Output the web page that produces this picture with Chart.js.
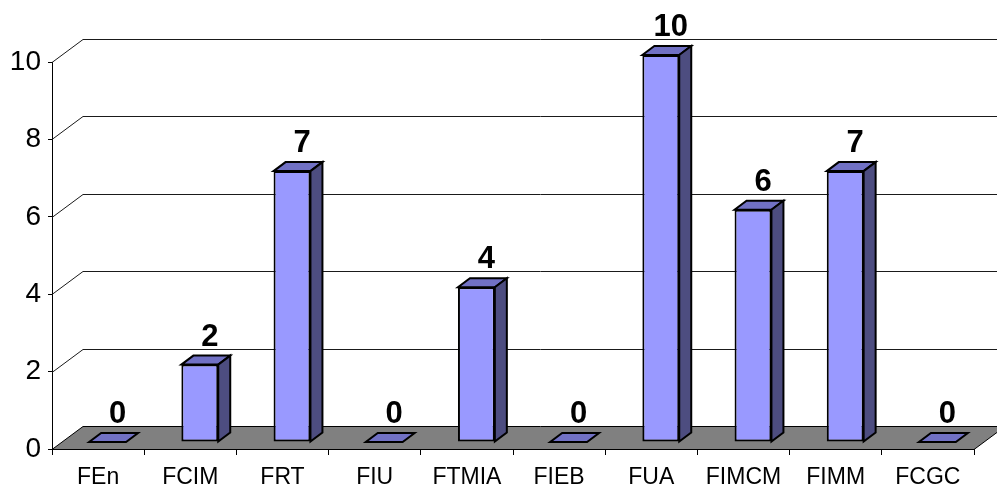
<!DOCTYPE html>
<html>
<head>
<meta charset="utf-8">
<script src="https://cdn.jsdelivr.net/npm/chart.js@4.4.0/dist/chart.umd.min.js"></script>
<style>
    html, body { margin: 0; padding: 0; background: #fff; }
    #wrap { width: 997px; height: 486px; }
</style>
</head>
<body>
<div id="wrap"><canvas id="chart" width="997" height="486"></canvas></div>
<script>
const categories = ['FEn', 'FCIM', 'FRT', 'FIU', 'FTMIA', 'FIEB', 'FUA', 'FIMCM', 'FIMM', 'FCGC'];
const values = [0, 2, 7, 0, 4, 0, 10, 6, 7, 0];
const yTicks = [0, 2, 4, 6, 8, 10];

// 3D look: depth of walls/floor, where bars sit inside it, and bar depth
const DX = 31, DY = 23;
const BX = 9.5, BY = 7;
const SX = 12, SY = 9;

const FRONT = '#9999FF';
const TOP = '#7171C4';
const SIDE = '#4D4D80';
const FONT = "'Liberation Sans', Arial, sans-serif";

const wallsPlugin = {
    id: 'walls',
    beforeDatasetsDraw(chart) {
        const ctx = chart.ctx;
        const { left, right, bottom } = chart.chartArea;
        const yScale = chart.scales.y;
        ctx.save();
        ctx.lineWidth = 1;
        ctx.strokeStyle = '#1a1a1a';
        yTicks.forEach(v => {
            if (v === 0) return;
            const py = Math.round(yScale.getPixelForValue(v)) + 0.5;
            ctx.beginPath();
            ctx.moveTo(left, py);
            ctx.lineTo(left + DX, py - DY);
            ctx.lineTo(chart.width + 10, py - DY);
            ctx.stroke();
        });

        // floor
        const b = Math.round(bottom) + 0.5;
        ctx.fillStyle = '#808080';
        ctx.strokeStyle = '#000';
        ctx.beginPath();
        ctx.moveTo(left, b);
        ctx.lineTo(right, b);
        ctx.lineTo(right + DX, b - DY);
        ctx.lineTo(left + DX, b - DY);
        ctx.closePath();
        ctx.fill();
        ctx.stroke();
        ctx.restore();
    },
    beforeDatasetDraw(chart) {
        chart.ctx.save();
        chart.ctx.translate(BX, -BY);
    },
    afterDatasetDraw(chart, args) {
        const ctx = chart.ctx;
        ctx.lineWidth = 2;
        ctx.strokeStyle = '#000';
        ctx.lineJoin = 'miter';
        args.meta.data.forEach(el => {
            const { x, y, base, width } = el.getProps(['x', 'y', 'base', 'width'], true);
            const l = x - width / 2, r = x + width / 2;
            // top face
            ctx.fillStyle = TOP;
            ctx.beginPath();
            ctx.moveTo(l, y);
            ctx.lineTo(r, y);
            ctx.lineTo(r + SX, y - SY);
            ctx.lineTo(l + SX, y - SY);
            ctx.closePath();
            ctx.fill();
            ctx.stroke();
            if (base - y > 0.5) {
                // side face
                ctx.fillStyle = SIDE;
                ctx.beginPath();
                ctx.moveTo(r, y);
                ctx.lineTo(r + SX, y - SY);
                ctx.lineTo(r + SX, base - SY);
                ctx.lineTo(r, base);
                ctx.closePath();
                ctx.fill();
                ctx.stroke();
            }
        });
        ctx.restore();
    },
    afterDatasetsDraw(chart) {
        const ctx = chart.ctx;
        const meta = chart.getDatasetMeta(0);
        ctx.save();
        ctx.fillStyle = '#000';
        ctx.font = 'bold 31px ' + FONT;
        ctx.textAlign = 'center';
        ctx.textBaseline = 'alphabetic';
        meta.data.forEach((el, i) => {
            const { x, y } = el.getProps(['x', 'y'], true);
            ctx.fillText(String(values[i]), x + BX + 10, y - BY - 19);
        });
        ctx.restore();
    }
};

new Chart(document.getElementById('chart').getContext('2d'), {
    type: 'bar',
    data: {
        labels: categories,
        datasets: [{
            data: values,
            backgroundColor: FRONT,
            borderColor: '#000',
            borderWidth: 2,
            borderSkipped: false,
            barPercentage: 0.4,
            categoryPercentage: 1
        }]
    },
    options: {
        responsive: false,
        animation: false,
        layout: { padding: { top: 62, right: 23, left: 0, bottom: 0 } },
        plugins: {
            legend: { display: false },
            tooltip: { enabled: false }
        },
        scales: {
            x: {
                afterFit: s => { s.height = 37; },
                grid: { drawOnChartArea: false, color: '#000', tickLength: 6, offset: true },
                border: { display: true, color: '#000' },
                ticks: { color: '#000', font: { family: FONT, size: 23 }, padding: 9, maxRotation: 0 }
            },
            y: {
                min: 0,
                max: 10,
                afterFit: s => { s.width = 52; },
                afterBuildTicks: s => { s.ticks = yTicks.map(v => ({ value: v })); },
                grid: { drawOnChartArea: false, color: '#000', tickLength: 4 },
                border: { display: true, color: '#000' },
                ticks: { color: '#000', font: { family: FONT, size: 28 }, padding: 7 }
            }
        }
    },
    plugins: [wallsPlugin]
});
</script>
</body>
</html>
